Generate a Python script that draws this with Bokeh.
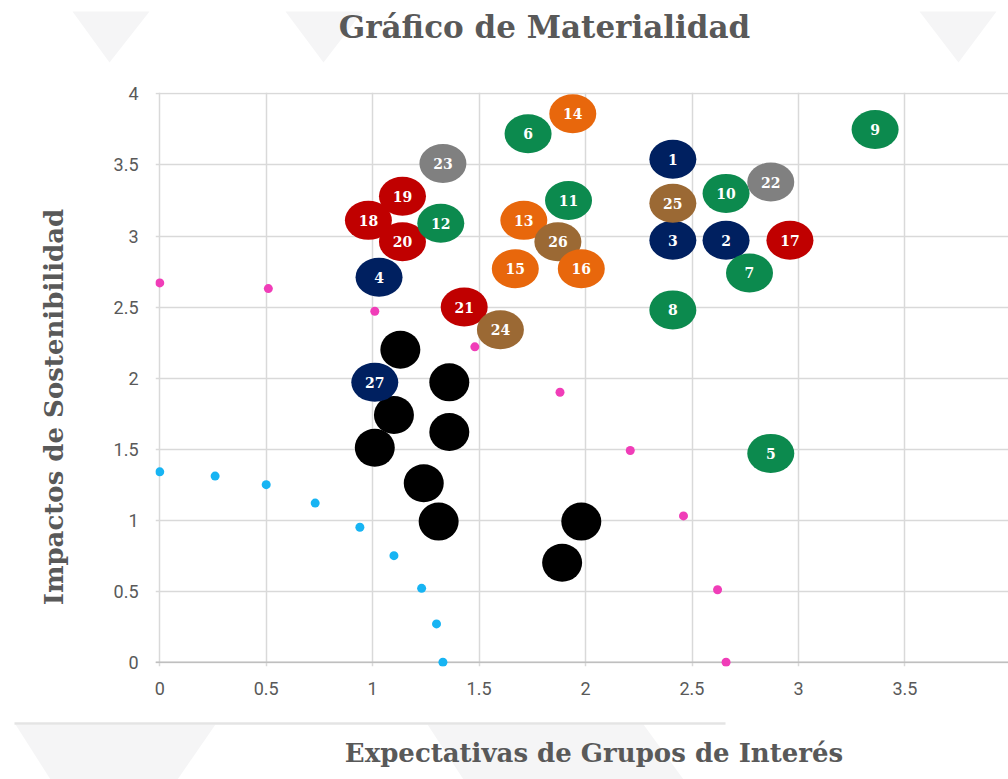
import math
from bokeh.plotting import figure
from bokeh.layouts import column, row
from bokeh.models import (ColumnDataSource, Span, NumeralTickFormatter,
                          FixedTicker, Range1d)
from bokeh.embed import file_html
from bokeh.resources import INLINE
from bokeh.core.properties import value

# ---------------- data ----------------
title_text = "Gráfico de Materialidad"
x_title = "Expectativas de Grupos de Interés"
y_title = "Impactos de Sostenibilidad"

x_ticks = [0, 0.5, 1, 1.5, 2, 2.5, 3, 3.5, 4]
y_ticks = [0, 0.5, 1, 1.5, 2, 2.5, 3, 3.5, 4]

# numbered material topics (listed in drawing order)
topic_ids = [1, 2, 3, 4, 5, 6, 7, 8, 9, 10, 11, 13, 14, 15, 17, 18, 19, 20,
             12, 21, 22, 23, 24, 25, 26, 16, 27]
topic_x = [2.41, 2.66, 2.41, 1.03, 2.87, 1.73, 2.77, 2.41, 3.36, 2.66, 1.92,
           1.71, 1.94, 1.67, 2.96, 0.98, 1.14, 1.14, 1.32, 1.43, 2.87, 1.33,
           1.60, 2.41, 1.87, 1.98, 1.01]
topic_y = [3.54, 2.97, 2.97, 2.71, 1.47, 3.72, 2.74, 2.48, 3.75, 3.30, 3.25,
           3.11, 3.86, 2.77, 2.97, 3.11, 3.28, 2.96, 3.09, 2.50, 3.38, 3.51,
           2.34, 3.23, 2.96, 2.77, 1.97]
topic_group = ["navy", "navy", "navy", "navy", "green", "green", "green",
               "green", "green", "green", "green", "orange", "orange",
               "orange", "red", "red", "red", "red", "green", "red", "gray",
               "gray", "brown", "brown", "brown", "orange", "navy"]

# black (unlabelled) bubbles
black_x = [1.13, 1.36, 1.10, 1.36, 1.01, 1.24, 1.31, 1.98, 1.89]
black_y = [2.20, 1.97, 1.74, 1.62, 1.51, 1.26, 0.99, 0.99, 0.70]

# small cyan points
cyan_x = [0.00, 0.26, 0.50, 0.73, 0.94, 1.10, 1.23, 1.30, 1.33]
cyan_y = [1.34, 1.31, 1.25, 1.12, 0.95, 0.75, 0.52, 0.27, 0.00]

# small magenta points
magenta_x = [0.00, 0.51, 1.01, 1.48, 1.88, 2.21, 2.46, 2.62, 2.66]
magenta_y = [2.67, 2.63, 2.47, 2.22, 1.90, 1.49, 1.03, 0.51, 0.00]

# ---------------- styles ----------------
group_colors = {"navy": "#002060", "green": "#0C8A4E", "orange": "#E8670C",
                "red": "#C00000", "gray": "#808080", "brown": "#9B6934"}
TXT = "#595959"
GRID = "#d9d9d9"
DECO = "#f5f5f6"
TITLE_FONT = "DejaVu Serif"

TOTAL_W = 1008
TOP_H, MID_H, BOT_H = 84, 626, 69
LEFT_W = 80


def blank(width, height, x0, x1, y_top, y_bottom):
    f = figure(width=width, height=height, output_backend="svg",
               toolbar_location=None, x_axis_location=None, y_axis_location=None,
               x_range=Range1d(x0, x1), y_range=Range1d(y_bottom, y_top),
               min_border=0, outline_line_color=None,
               background_fill_color="white", border_fill_color="white")
    f.xgrid.visible = False
    f.ygrid.visible = False
    return f


# ---- top band: decorative triangles + title ----
ft = blank(TOTAL_W, TOP_H, 0, TOTAL_W, 0, TOP_H)
ft.patches([[72, 149, 109], [285, 362, 323], [919, 996, 958]],
           [[11, 11, 62], [11, 11, 62], [11, 11, 62]],
           fill_color=DECO, line_color=None)
ft.text([544], [26], text=[title_text], text_align="center",
        text_baseline="alphabetic", text_font=value(TITLE_FONT),
        text_font_style="bold", text_font_size="31px", text_color=TXT)

# ---- left strip: y axis title ----
fl = blank(LEFT_W, MID_H, 0, LEFT_W, TOP_H, TOP_H + MID_H)
fl.text([53], [427], text=[y_title], angle=math.pi / 2, text_align="center",
        text_baseline="alphabetic", text_font=value(TITLE_FONT),
        text_font_style="bold", text_font_size="26px", text_color=TXT)

# ---- main chart ----
p = figure(width=TOTAL_W - LEFT_W, height=MID_H, output_backend="svg",
           toolbar_location=None,
           x_range=Range1d(-0.02, 3.9866), y_range=Range1d(-0.03, 4.01),
           min_border_left=75, min_border_right=0, min_border_top=8,
           min_border_bottom=44, background_fill_color="white",
           border_fill_color="white", outline_line_color=None)

p.xaxis.ticker = FixedTicker(ticks=x_ticks)
p.yaxis.ticker = FixedTicker(ticks=y_ticks)
for ax in (p.xaxis[0], p.yaxis[0]):
    ax.formatter = NumeralTickFormatter(format="0.[0]")
    ax.axis_line_color = None
    ax.major_tick_line_color = None
    ax.minor_tick_line_color = None
    ax.major_tick_out = 0
    ax.major_tick_in = 0
    ax.major_label_text_font = "Roboto"
    ax.major_label_text_font_size = "18px"
    ax.major_label_text_color = TXT
p.xaxis.major_label_standoff = 15
p.yaxis.major_label_standoff = 17
p.xgrid.grid_line_color = GRID
p.ygrid.grid_line_color = GRID
p.xgrid.grid_line_width = 1.5
p.ygrid.grid_line_width = 1.5
p.add_layout(Span(location=0, dimension="width", line_color="#bfbfbf",
                  line_width=1.5, level="underlay"))

p.scatter(cyan_x, cyan_y, size=9, color="#17B4F3", line_color=None)
p.scatter(magenta_x, magenta_y, size=9, color="#F03DB8", line_color=None)

p.ellipse(black_x, black_y, width=40, height=38, width_units="screen",
          height_units="screen", fill_color="black", line_color=None)

src = ColumnDataSource(dict(
    x=topic_x, y=topic_y, label=[str(i) for i in topic_ids],
    color=[group_colors[g] for g in topic_group]))
p.ellipse("x", "y", width=47, height=39, width_units="screen",
          height_units="screen", fill_color="color", line_color=None, source=src)
p.text("x", "y", text="label", source=src, text_color="white",
       text_align="center", text_baseline="middle",
       text_font=value("DejaVu Serif"), text_font_size="14px",
       text_font_style="bold")

# ---- bottom band: rule, decorative shapes, x axis title ----
y0 = TOP_H + MID_H
fb = blank(TOTAL_W, BOT_H, 0, TOTAL_W, y0, y0 + BOT_H)
fb.patches([[15, 215, 177, 50], [427, 643, 683, 463]],
           [[724, 724, 779, 779], [724, 724, 779, 779]],
           fill_color=DECO, line_color=None)
fb.segment([14], [723], [725], [723], line_color="#e4e4e4", line_width=2.5)
fb.text([593.5], [752], text=[x_title], text_align="center",
        text_baseline="alphabetic", text_font=value(TITLE_FONT),
        text_font_style="bold", text_font_size="26px", text_color=TXT)

layout = column(ft, row(fl, p), fb)
open("out.html", "w").write(file_html(layout, INLINE))
